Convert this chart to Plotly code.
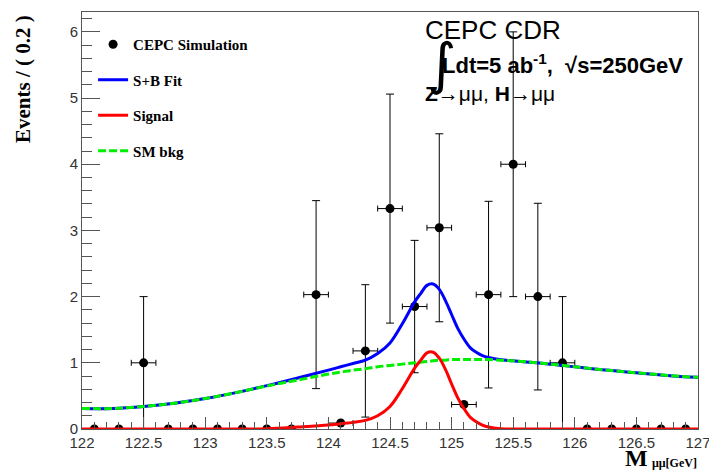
import plotly.graph_objects as go

# ---------------- data ----------------
bin_centers = [122.1, 122.3, 122.5, 122.7, 122.9, 123.1, 123.3, 123.5, 123.7, 123.9,
               124.1, 124.3, 124.5, 124.7, 124.9, 125.1, 125.3, 125.5, 125.7, 125.9,
               126.1, 126.3, 126.5, 126.7, 126.9]
events = [0, 0, 1.0, 0, 0, 0, 0, 0, 0, 2.03,
          0.09, 1.18, 3.33, 1.85, 3.04, 0.37, 2.03, 4.0, 2.0, 1.0,
          0, 0, 0, 0, 0]
events_err = [0, 0, 1.0, 0, 0, 0, 0, 0, 0, 1.42,
              0, 1.0, 1.73, 1.0, 1.42, 0, 1.41, 2.0, 1.41, 1.0,
              0, 0, 0, 0, 0]
bin_halfwidth = [0, 0, 0.1, 0, 0, 0, 0, 0, 0, 0.1,
                 0.1, 0.1, 0.1, 0.1, 0.1, 0.1, 0.1, 0.1, 0.1, 0.1,
                 0, 0, 0, 0, 0]

curve_x = [122.0, 122.25, 122.5, 122.75, 123.0, 123.25, 123.5, 123.75, 124.0, 124.1,
           124.2, 124.3, 124.4, 124.5, 124.6, 124.7, 124.75, 124.8, 124.85, 124.9,
           124.95, 125.0, 125.05, 125.1, 125.15, 125.2, 125.25, 125.3, 125.4, 125.5,
           125.75, 126.0, 126.25, 126.5, 126.75, 127.0]
bkg_y = [0.31, 0.31, 0.34, 0.39, 0.46, 0.55, 0.65, 0.74, 0.83, 0.86,
         0.89, 0.91, 0.94, 0.96, 0.98, 1.00, 1.01, 1.02, 1.03, 1.04,
         1.04, 1.05, 1.05, 1.05, 1.05, 1.05, 1.05, 1.05, 1.04, 1.03,
         0.99, 0.94, 0.89, 0.85, 0.81, 0.78]
signal_y = [0, 0, 0, 0, 0, 0, 0.005, 0.03, 0.06, 0.08,
            0.10, 0.13, 0.20, 0.34, 0.61, 0.92, 1.04, 1.15, 1.16, 1.07,
            0.90, 0.68, 0.47, 0.31, 0.18, 0.11, 0.06, 0.03, 0.005, 0,
            0, 0, 0, 0, 0, 0]
sb_y = [0.31, 0.31, 0.34, 0.39, 0.46, 0.55, 0.655, 0.77, 0.89, 0.94,
        0.99, 1.04, 1.14, 1.30, 1.59, 1.92, 2.05, 2.17, 2.19, 2.11,
        1.94, 1.73, 1.52, 1.36, 1.23, 1.16, 1.11, 1.08, 1.045, 1.03,
        0.99, 0.94, 0.89, 0.85, 0.81, 0.78]

x_ticks = [122, 122.5, 123, 123.5, 124, 124.5, 125, 125.5, 126, 126.5, 127]
x_ticklabels = ["122", "122.5", "123", "123.5", "124", "124.5", "125", "125.5", "126", "126.5", "127"]
y_ticks = [0, 1, 2, 3, 4, 5, 6]

# ---------------- figure ----------------
fig = go.Figure()

fig.add_trace(go.Scatter(
    x=bin_centers, y=events, mode="markers", name="CEPC Simulation",
    marker=dict(color="black", size=9, symbol="circle"),
    error_y=dict(type="data", array=events_err, color="black", thickness=1, width=4),
    error_x=dict(type="data", array=bin_halfwidth, color="black", thickness=1, width=3),
    legendgroup="a", legendrank=1,
))
fig.add_trace(go.Scatter(
    x=curve_x, y=sb_y, mode="lines", name="S+B Fit", line_shape="spline",
    line=dict(color="#0000ff", width=3), legendgroup="b", legendrank=2,
))
fig.add_trace(go.Scatter(
    x=curve_x, y=bkg_y, mode="lines", name="SM bkg", line_shape="spline",
    line=dict(color="#00ee00", width=3, dash="8px,3px"), legendgroup="d", legendrank=4,
))
fig.add_trace(go.Scatter(
    x=curve_x, y=signal_y, mode="lines", name="Signal", line_shape="spline",
    line=dict(color="#ff0000", width=3), legendgroup="c", legendrank=3,
))

axis_col = "#555555"
fig.update_layout(
    width=709, height=475,
    margin=dict(l=82, r=11, t=12, b=46, autoexpand=False),
    paper_bgcolor="white", plot_bgcolor="white",
    showlegend=True,
    legend=dict(
        x=0.018, y=(429.3 - 28) / 417.3, xanchor="left", yanchor="top",
        bgcolor="rgba(0,0,0,0)", borderwidth=0,
        font=dict(family="Liberation Serif", size=15, color="black", weight="bold"),
        traceorder="grouped", tracegroupgap=13,
    ),
    xaxis=dict(
        range=[122, 127], tickmode="array", tickvals=x_ticks, ticktext=x_ticklabels,
        ticks="inside", ticklen=12, tickcolor=axis_col, tickwidth=1,
        minor=dict(dtick=0.1, tick0=122, ticks="inside", ticklen=7, tickcolor=axis_col, tickwidth=1),
        showgrid=False, zeroline=False, ticklabeloverflow="allow", automargin=False,
        showline=True, linecolor=axis_col, linewidth=1, mirror=True,
        tickfont=dict(family="Liberation Sans", size=15, color="#333333"),
    ),
    yaxis=dict(
        range=[0, 6.3], tickmode="array", tickvals=y_ticks,
        ticks="inside", ticklen=18, tickcolor=axis_col, tickwidth=1,
        minor=dict(dtick=0.2, tick0=0, ticks="inside", ticklen=10, tickcolor=axis_col, tickwidth=1),
        showgrid=False, zeroline=False, automargin=False,
        showline=True, linecolor=axis_col, linewidth=1, mirror=True,
        tickfont=dict(family="Liberation Sans", size=15, color="#333333"),
    ),
)

def py(p):
    return (429.3 - p) / 417.3

def px(p):
    return (p - 82) / 616.3

ann = []
# y-axis title
ann.append(dict(text="<b>Events / ( 0.2 )</b>", x=px(23), y=py(79), xref="paper", yref="paper",
                textangle=-90, showarrow=False, xanchor="center", yanchor="middle",
                font=dict(family="Liberation Serif", size=21, color="black")))
# x-axis title
ann.append(dict(text="<b>M</b>", x=px(650), y=py(458), xref="paper", yref="paper",
                showarrow=False, xanchor="right", yanchor="middle",
                font=dict(family="Liberation Serif", size=24, color="black")))
ann.append(dict(text="<b>μμ[GeV]</b>", x=px(650), y=py(463), xref="paper", yref="paper",
                showarrow=False, xanchor="left", yanchor="middle",
                font=dict(family="Liberation Serif", size=12, color="black")))
# top-right labels
ann.append(dict(text="CEPC CDR", x=px(423), y=py(30), xref="paper", yref="paper",
                showarrow=False, xanchor="left", yanchor="middle",
                font=dict(family="Liberation Sans", size=26, color="black")))
ann.append(dict(text="∫", x=px(425), y=py(64), xref="paper", yref="paper",
                showarrow=False, xanchor="left", yanchor="middle",
                font=dict(family="DejaVu Sans", size=56, color="black")))
ann.append(dict(text="<b>Ldt=5 ab<sup>-1</sup>,  √s=250GeV</b>", x=px(440), y=py(64), xref="paper", yref="paper",
                showarrow=False, xanchor="left", yanchor="middle",
                font=dict(family="Liberation Sans", size=22, color="black")))
ann.append(dict(text="<b>Z</b>→μμ, <b>H</b>→μμ", x=px(423), y=py(94), xref="paper", yref="paper",
                showarrow=False, xanchor="left", yanchor="middle",
                font=dict(family="Liberation Sans", size=21, color="black")))
fig.update_layout(annotations=ann)

fig.write_html("out.html", config={"displayModeBar": False},
               post_script="document.body.style.margin='0px';")
